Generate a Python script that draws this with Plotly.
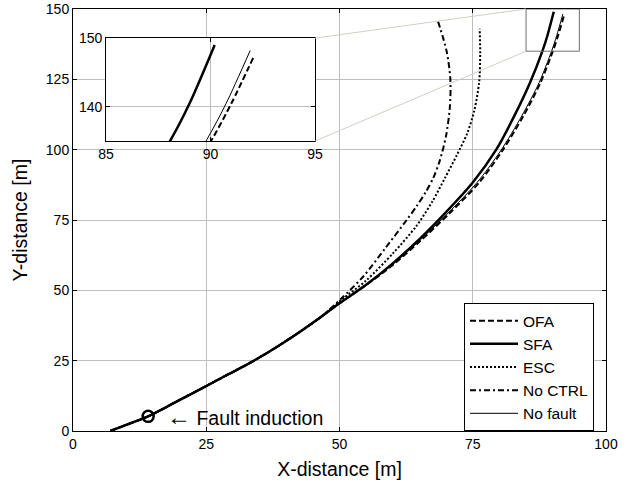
import plotly.graph_objects as go

# ---- data ----
base_x = [7.0, 10.0, 14.1, 19.5, 24.9, 29.0, 33.2, 38.0, 42.6, 46.5]
base_y = [0.0, 2.2, 5.2, 10.5, 15.9, 20.0, 24.2, 29.6, 35.3, 40.5]

sfa_x = base_x + [50.0, 55.0, 60.0, 65.0, 70.0, 75.0, 79.4, 82.8, 85.7, 88.1, 89.0, 90.2]
sfa_y = base_y + [45.4, 52.0, 59.6, 68.2, 77.8, 88.3, 100.0, 112.0, 123.6, 135.2, 140.5, 149.0]

ofa_x = base_x + [50.0, 55.1, 60.2, 65.3, 70.6, 76.2, 80.5, 84.5, 87.7, 90.06, 91.0, 92.1]
ofa_y = base_y + [45.4, 52.0, 59.3, 67.8, 77.3, 88.3, 99.5, 112.0, 123.8, 135.2, 140.5, 147.5]

nofault_x = base_x + [50.0, 55.1, 60.1, 65.2, 70.4, 75.8, 80.2, 84.2, 87.45, 89.82, 90.75, 91.9]
nofault_y = base_y + [45.4, 52.0, 59.4, 68.0, 77.5, 88.3, 99.5, 112.0, 123.8, 135.2, 140.5, 148.2]

esc_x = base_x + [50.5, 55.0, 60.1, 64.4, 67.4, 69.8, 72.0, 74.0, 75.3, 76.2, 76.4, 76.3]
esc_y = base_y + [46.8, 53.5, 63.3, 72.8, 81.5, 90.0, 98.0, 106.0, 114.0, 124.0, 134.0, 143.0]

noctrl_x = base_x + [50.4, 54.5, 58.6, 62.6, 64.5, 66.2, 67.6, 68.8, 70.0, 70.7, 70.8, 70.1, 68.5]
noctrl_y = base_y + [47.2, 55.0, 65.0, 75.0, 80.0, 85.0, 90.0, 96.0, 105.0, 115.0, 125.0, 135.0, 145.5]

fault_x = [14.1]
fault_y = [5.2]

x_ticks = [0, 25, 50, 75, 100]
y_ticks = [0, 25, 50, 75, 100, 125, 150]
inset_x_ticks = [85, 90, 95]
inset_y_ticks = [140, 150]
inset_x_range = [85, 95]
inset_y_range = [135, 150]

series = [
    ("OFA", ofa_x, ofa_y, dict(color="black", width=2, dash="6px,3px")),
    ("SFA", sfa_x, sfa_y, dict(color="black", width=2.5)),
    ("ESC", esc_x, esc_y, dict(color="black", width=2, dash="2px,2px")),
    ("No CTRL", noctrl_x, noctrl_y, dict(color="black", width=2, dash="6px,3px,2px,3px")),
    ("No fault", nofault_x, nofault_y, dict(color="black", width=1)),
]

FONT = "Arial, Liberation Sans, sans-serif"
fig = go.Figure()

for i, (name, xs, ys, line) in enumerate(series):
    ln = dict(line, shape="spline", smoothing=0.8)
    fig.add_trace(go.Scatter(x=xs, y=ys, mode="lines", name=name, line=ln,
                             legendgroup=f"g{i}", xaxis="x", yaxis="y"))
for i, (name, xs, ys, line) in enumerate(series):
    ln = dict(line, shape="spline", smoothing=0.8)
    fig.add_trace(go.Scatter(x=xs, y=ys, mode="lines", name=name, line=ln,
                             showlegend=False, legendgroup=f"g{i}", xaxis="x2", yaxis="y2"))

fig.add_trace(go.Scatter(x=fault_x, y=fault_y, mode="markers", showlegend=False,
                         marker=dict(symbol="circle-open", size=11, color="black",
                                     line=dict(width=2.5, color="black"))))

fig.add_annotation(x=fault_x[0] + 3.2, y=fault_y[0], xref="x", yref="y",
                   text="<span style='font-size:24px'>\u2190</span> Fault induction",
                   showarrow=False, xanchor="left",
                   yanchor="middle", font=dict(family=FONT, size=19.5, color="black"))

grid = "#bdbdbd"
axis_common = dict(showline=True, linecolor="black", linewidth=1, mirror="ticks",
                   ticks="inside", ticklen=4, tickcolor="black", showgrid=True,
                   gridcolor=grid, gridwidth=1, zeroline=False, automargin=False,
                   tickfont=dict(family=FONT, size=14, color="black"))

ix0, ix1 = 0.062, 0.454
iy0, iy1 = 0.687, 0.931

fig.update_layout(
    width=633, height=485,
    margin=dict(l=73, r=27, t=9, b=54),
    paper_bgcolor="white", plot_bgcolor="white",
    font=dict(family=FONT, color="black"),
    xaxis=dict(range=[0, 100], tickvals=x_ticks, domain=[0, 1],
               title=dict(text="X-distance [m]", font=dict(family=FONT, size=19.5), standoff=11),
               **axis_common),
    yaxis=dict(range=[0, 150], tickvals=y_ticks, domain=[0, 1],
               title=dict(text="Y-distance [m]", font=dict(family=FONT, size=19.5), standoff=13),
               **axis_common),
    xaxis2=dict(range=inset_x_range, tickvals=inset_x_ticks, domain=[ix0, ix1],
                anchor="y2", **axis_common),
    yaxis2=dict(range=inset_y_range, tickvals=inset_y_ticks, domain=[iy0, iy1],
                anchor="x2", **axis_common),
    legend=dict(x=0.7336, y=0.303, xanchor="left", yanchor="top",
                bgcolor="white", bordercolor="black", borderwidth=1,
                font=dict(family=FONT, size=15.5, color="black"),
                tracegroupgap=0, itemwidth=48),
    showlegend=True,
)

# white background of the inset
fig.add_shape(type="rect", xref="x2 domain", yref="y2 domain", x0=0, x1=1, y0=0, y1=1,
              fillcolor="white", line=dict(width=0), layer="below")
# zoom rectangle on main axes
fig.add_shape(type="rect", xref="x", yref="y", x0=inset_x_range[0], x1=inset_x_range[1],
              y0=inset_y_range[0], y1=inset_y_range[1], line=dict(color="#6e6e6e", width=1))
# connecting lines
rx0 = inset_x_range[0] / 100.0
ry0 = inset_y_range[0] / 150.0
ry1 = inset_y_range[1] / 150.0
fig.add_shape(type="line", xref="paper", yref="paper", x0=ix1, y0=iy1, x1=rx0, y1=ry1,
              line=dict(color="#cfcfc6", width=1))
fig.add_shape(type="line", xref="paper", yref="paper", x0=ix1, y0=iy0, x1=rx0, y1=ry0,
              line=dict(color="#cfcfc6", width=1))

fig.write_html("out.html", config={"displayModeBar": False},
               post_script="document.body.style.margin='0';")
